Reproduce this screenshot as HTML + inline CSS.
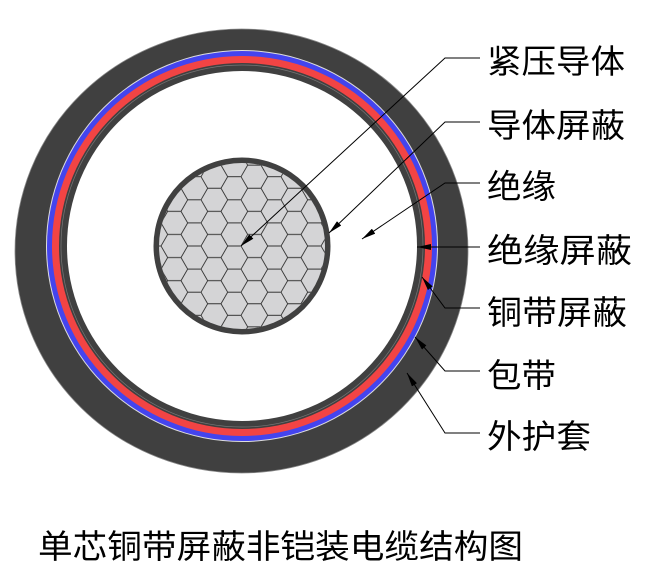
<!DOCTYPE html>
<html><head><meta charset="utf-8"><style>
html,body{margin:0;padding:0;background:#fff;}
svg{display:block;}
text{font-family:"Liberation Sans","Noto Sans CJK SC",sans-serif;font-size:33px;fill:#000;}
</style></head><body>
<svg width="650" height="582" viewBox="0 0 650 582" xmlns="http://www.w3.org/2000/svg">
<defs>
<pattern id="hex" patternUnits="userSpaceOnUse" width="40" height="23.1" x="241" y="246">
<path d="M0 0 L6.67 11.55 L20 11.55 L26.67 0 L40 0 M6.67 11.55 L0 23.1 M26.67 0 L20 -11.55 M20 11.55 L26.67 23.1 L40 23.1 M0 23.1 L-13.3 23.1" fill="none" stroke="#333" stroke-width="0.9"/>
</pattern>
<marker id="ar" markerWidth="14" markerHeight="6" refX="14" refY="3" orient="auto" markerUnits="userSpaceOnUse">
<path d="M0 0 L14 3 L0 6 Z" fill="#000"/>
</marker>
</defs>
<ellipse cx="241.5" cy="251" rx="226.5" ry="222" fill="#404040" stroke="#888" stroke-width="0.8"/>
<circle cx="242" cy="246" r="196" fill="#ddd"/>
<circle cx="242" cy="246" r="195" fill="#4444ee"/>
<circle cx="242" cy="246" r="190" fill="#f24444"/>
<circle cx="242" cy="246" r="183" fill="#404040"/>
<circle cx="242" cy="246" r="181" fill="none" stroke="#777" stroke-width="0.7"/>
<circle cx="242" cy="246" r="175" fill="#fff"/>
<circle cx="242" cy="246" r="88.5" fill="#404040"/>
<circle cx="242" cy="246" r="83" fill="#d4d4d6"/>
<circle cx="242" cy="246" r="83" fill="url(#hex)"/>
<g stroke="#000" stroke-width="1" fill="none">
<path d="M480 58 L445 58 L241 246" marker-end="url(#ar)"/>
<path d="M480 122 L445 122 L329 233" marker-end="url(#ar)"/>
<path d="M480 183 L445 183 L362 239" marker-end="url(#ar)"/>
<path d="M480 247 L417 247" marker-end="url(#ar)"/>
<path d="M480 308 L445 308 L422 277" marker-end="url(#ar)"/>
<path d="M480 371 L445 371 L415 337" marker-end="url(#ar)"/>
<path d="M480 433 L445 433 L407 373" marker-end="url(#ar)"/>
</g>
<text x="487" y="73" textLength="138" lengthAdjust="spacingAndGlyphs">紧压导体</text>
<text x="487" y="137" textLength="138" lengthAdjust="spacingAndGlyphs">导体屏蔽</text>
<text x="487" y="198" textLength="69" lengthAdjust="spacingAndGlyphs">绝缘</text>
<text x="487" y="262" textLength="145" lengthAdjust="spacingAndGlyphs">绝缘屏蔽</text>
<text x="487" y="324" textLength="140" lengthAdjust="spacingAndGlyphs">铜带屏蔽</text>
<text x="487" y="387" textLength="69" lengthAdjust="spacingAndGlyphs">包带</text>
<text x="487" y="448" textLength="104" lengthAdjust="spacingAndGlyphs">外护套</text>
<text x="38" y="558" textLength="485" lengthAdjust="spacingAndGlyphs">单芯铜带屏蔽非铠装电缆结构图</text>
</svg>
</body></html>
